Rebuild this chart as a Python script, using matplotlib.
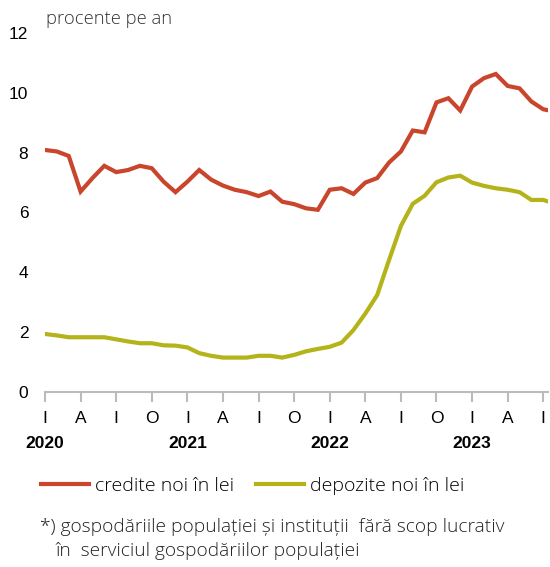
import numpy as np
import matplotlib
matplotlib.use('Agg')
import matplotlib.pyplot as plt
import matplotlib.transforms as mtransforms

# monthly series, Jan 2020 - Aug 2023 (procente pe an)
credite = [8.09, 8.04, 7.89, 6.70, 7.15, 7.56, 7.35, 7.42, 7.56, 7.48,
           7.03, 6.68, 7.03, 7.42, 7.10, 6.90, 6.76, 6.68, 6.55, 6.70,
           6.36, 6.28, 6.14, 6.09, 6.76, 6.81, 6.62, 7.00, 7.15, 7.67,
           8.04, 8.74, 8.68, 9.68, 9.82, 9.41, 10.21, 10.49, 10.63, 10.23,
           10.15, 9.71, 9.45, 9.37]
depozite = [1.94, 1.89, 1.83, 1.83, 1.83, 1.83, 1.76, 1.69, 1.63, 1.63,
            1.56, 1.55, 1.49, 1.30, 1.21, 1.15, 1.15, 1.15, 1.21, 1.21,
            1.15, 1.24, 1.36, 1.44, 1.51, 1.65, 2.07, 2.62, 3.24, 4.41,
            5.55, 6.29, 6.56, 7.01, 7.17, 7.23, 7.00, 6.89, 6.81, 6.76,
            6.68, 6.42, 6.42, 6.29]
tick_labels = ['I', 'A', 'I', 'O'] * 3 + ['I', 'A', 'I']
years = ['2020', '2021', '2022', '2023']
serie_names = ['credite noi în lei', 'depozite noi în lei']

red = '#c9452b'
green = '#b4b41a'
cond = ['Liberation Sans', 'DejaVu Sans']
light = ['Open Sans', 'DejaVu Sans']

fig = plt.figure(figsize=(5.5, 5.67), dpi=100)
ax = fig.add_axes([45 / 550, 1 - 392 / 567, 503 / 550, 359 / 567])

months = np.arange(len(credite))
ax.plot(months, credite, color=red, lw=3, label=serie_names[0], solid_joinstyle='miter')
ax.plot(months, depozite, color=green, lw=3, label=serie_names[1], solid_joinstyle='miter')

ax.set_xlim(0, 42.4)
ax.set_ylim(0, 12)
for s in ['top', 'right', 'left']:
    ax.spines[s].set_visible(False)
ax.spines['bottom'].set_color('#bbbbbb')
ax.spines['bottom'].set_linewidth(1.5)

ax.set_yticks(range(0, 13, 2))
ax.set_yticklabels([str(v) for v in range(0, 13, 2)], family=cond, fontsize=12.5)
ax.tick_params(axis='y', length=0, pad=12)

ax.set_xticks(range(0, 43, 3))
ax.set_xticklabels(tick_labels, family=cond, fontsize=12.5)
ax.tick_params(axis='x', length=7, width=1.5, color='#bbbbbb', direction='out', pad=7)

trans = mtransforms.blended_transform_factory(ax.transData, ax.transAxes)
for i, y in enumerate(years):
    ax.text(i * 12, -0.143, y, transform=trans, ha='center', va='center',
            family=cond, fontsize=12.5, fontweight='bold')

fig.text(46 / 550, 1 - 19 / 567, 'procente pe an', family=light, fontweight='light',
         fontsize=13.2, color='#333333', va='center')

fig.legend(loc='center left', bbox_to_anchor=(0.042, 1 - 486 / 567), ncol=2,
           frameon=False, handlelength=2.5, handletextpad=0.3, columnspacing=1.1,
           prop={'family': light, 'weight': 'light', 'size': 14})

fig.text(40 / 550, 1 - 527 / 567,
         '*) gospodăriile populației și instituții  fără scop lucrativ',
         family=light, fontweight='light', fontsize=13.8, color='#222222', va='center')
fig.text(55 / 550, 1 - 551 / 567, 'în  serviciul gospodăriilor populației',
         family=light, fontweight='light', fontsize=13.8, color='#222222', va='center')

fig.savefig('out.png', dpi=100)
